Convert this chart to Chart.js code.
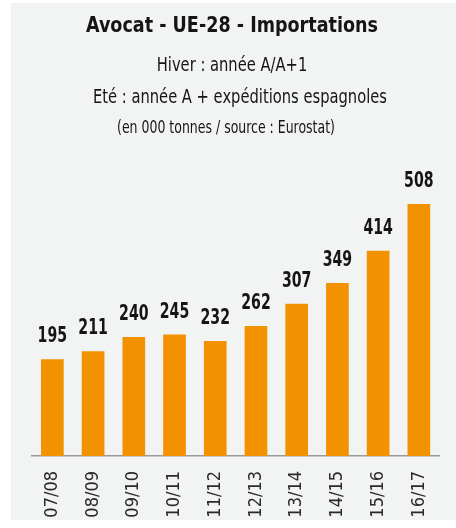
<!DOCTYPE html>
<html><head><meta charset="utf-8">
<script src="https://cdn.jsdelivr.net/npm/chart.js@4.4.1/dist/chart.umd.min.js"></script>
<style>
html,body{margin:0;padding:0;background:#fff;width:456px;height:528px;overflow:hidden;}
#box{position:absolute;left:11px;top:3px;width:445px;height:517px;background:#f2f3f3;}
canvas{display:block;}
</style></head>
<body><div id="box"><canvas id="c" width="445" height="517"></canvas></div>
<script>
const categories = ["07/08","08/09","09/10","10/11","11/12","12/13","13/14","14/15","15/16","16/17"];
const imports = [195, 211, 240, 245, 232, 262, 307, 349, 414, 508];
const titleText = "Avocat - UE-28 - Importations";
const subtitleLines = ["Hiver : année A/A+1", "Eté : année A + expéditions espagnoles"];
const noteText = "(en 000 tonnes / source : Eurostat)";

// pick a condensed family if one is installed, otherwise Roboto
const probe = document.createElement('canvas').getContext('2d');
function has(fam) {
  const s = "07/08 Avocat Importations";
  probe.font = "40px monospace"; const a = probe.measureText(s).width;
  probe.font = "40px '" + fam + "', monospace"; const b = probe.measureText(s).width;
  return Math.abs(a - b) > 0.5;
}
const condensed = ["Liberation Sans Narrow", "DejaVu Sans Condensed", "Roboto Condensed"].find(has);
const FONT = condensed ? "'" + condensed + "', Roboto, sans-serif" : "Roboto, sans-serif";

function drawScaled(ctx, text, cx, baseline, s) {
  ctx.save();
  ctx.translate(cx, baseline);
  ctx.scale(s, 1);
  ctx.fillText(text, 0, 0);
  ctx.restore();
}

const headerPlugin = {
  id: 'header',
  afterDraw(chart) {
    const ctx = chart.ctx;
    ctx.save();
    ctx.textAlign = 'center';
    ctx.textBaseline = 'alphabetic';
    ctx.fillStyle = '#151515';
    ctx.font = "bold 22px " + FONT;
    drawScaled(ctx, titleText, 221, 29, Math.min(1, 292 / ctx.measureText(titleText).width));
    ctx.font = "20px " + FONT;
    const s2 = Math.min(1, 294 / ctx.measureText(subtitleLines[1]).width);
    drawScaled(ctx, subtitleLines[0], 221, 68, s2);
    drawScaled(ctx, subtitleLines[1], 229, 100, s2);
    ctx.font = "17px " + FONT;
    drawScaled(ctx, noteText, 215, 130, s2);
    ctx.restore();
  }
};

const valueLabels = {
  id: 'valueLabels',
  afterDatasetsDraw(chart) {
    const ctx = chart.ctx;
    const meta = chart.getDatasetMeta(0);
    ctx.save();
    ctx.textAlign = 'center';
    ctx.textBaseline = 'alphabetic';
    ctx.fillStyle = '#151515';
    ctx.font = "bold 22px " + FONT;
    const sx = Math.min(1, 29.5 / ctx.measureText("195").width);
    meta.data.forEach((bar, i) => {
      ctx.save();
      ctx.translate(bar.x, bar.y - 17);
      ctx.scale(sx, 1);
      ctx.fillText(String(chart.data.datasets[0].data[i]), 0, 0);
      ctx.restore();
    });
    ctx.restore();
  }
};

new Chart(document.getElementById('c'), {
  type: 'bar',
  data: {
    labels: categories,
    datasets: [{
      data: imports,
      backgroundColor: '#f39200',
      barPercentage: 0.557,
      categoryPercentage: 1.0
    }]
  },
  options: {
    responsive: false,
    animation: false,
    layout: { padding: { top: 150, left: 21, right: 11, bottom: 0 } },
    plugins: { legend: { display: false }, tooltip: { enabled: false }, title: { display: false } },
    scales: {
      x: {
        afterFit(scale) { scale.height = 64; },
        grid: { display: false, drawTicks: false },
        border: { display: true, color: '#9a9a9a', width: 1.5 },
        ticks: {
          minRotation: 90, maxRotation: 90, padding: 15,
          color: '#2a2a2a',
          font: { family: FONT, size: 18 }
        }
      },
      y: {
        display: false,
        min: 0,
        max: 611
      }
    }
  },
  plugins: [headerPlugin, valueLabels]
});
</script>
</body></html>
